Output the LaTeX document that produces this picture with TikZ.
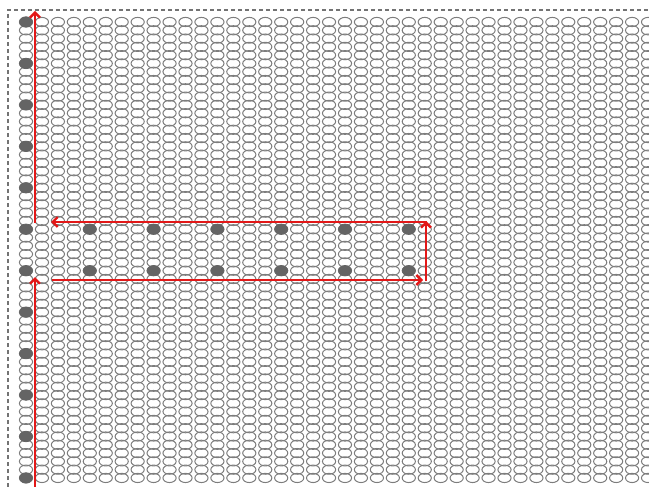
\documentclass[tikz,border=0pt]{standalone}
\usetikzlibrary{arrows.meta}

\definecolor{pathred}{RGB}{226,24,24}
\definecolor{siteline}{RGB}{125,125,125}
\definecolor{sitefill}{RGB}{100,100,100}

\begin{document}
\begin{tikzpicture}[
  x=1pt, y=-1pt,
  site/.style={draw=siteline, line width=1pt},
  hole/.style={draw=sitefill, fill=sitefill, line width=0.8pt},
  frame/.style={draw=black!55, line width=1.2pt, dash pattern=on 4pt off 3pt},
  route/.style={draw=pathred, line width=2.4pt, -{Straight Barb[length=5pt,width=10pt]}}
]
\useasboundingbox (0,0) rectangle (649,487);
\clip (0,0) rectangle (649,487);

% border of the sample
\draw[frame] (8,487) -- (8,10) -- (649,10);

% lattice of sites
\foreach \i in {0,...,39}{
  \foreach \j in {0,...,55}{
    \draw[site] ({26+15.95*\i},{22+8.29*\j}) ellipse (6.6 and 4.6);
  }
}

% removed sites: left column
\foreach \j in {0,5,...,55}{
  \fill[hole] (26,{22+8.29*\j}) ellipse (6.4 and 5.2);
}

% removed sites: along the channel
\foreach \i in {4,8,...,24}{
  \fill[hole] ({26+15.95*\i},{22+8.29*25}) ellipse (6.4 and 5.2);
  \fill[hole] ({26+15.95*\i},{22+8.29*30}) ellipse (6.4 and 5.2);
}

% turning points of the path
\coordinate (inlet) at (35,487);
\coordinate (inend) at (35,277);
\coordinate (lowstart) at (52,280);
\coordinate (lowend) at (423,280);
\coordinate (turnlow) at (426,281);
\coordinate (turnhigh) at (426,221);
\coordinate (highstart) at (427,222);
\coordinate (highend) at (51,222);
\coordinate (outstart) at (35,223);
\coordinate (outlet) at (35,11);

% path arrows
\draw[route] (inlet) -- (inend);
\draw[route] (lowstart) -- (lowend);
\draw[route] (turnlow) -- (turnhigh);
\draw[route] (highstart) -- (highend);
\draw[route] (outstart) -- (outlet);

\end{tikzpicture}
\end{document}
